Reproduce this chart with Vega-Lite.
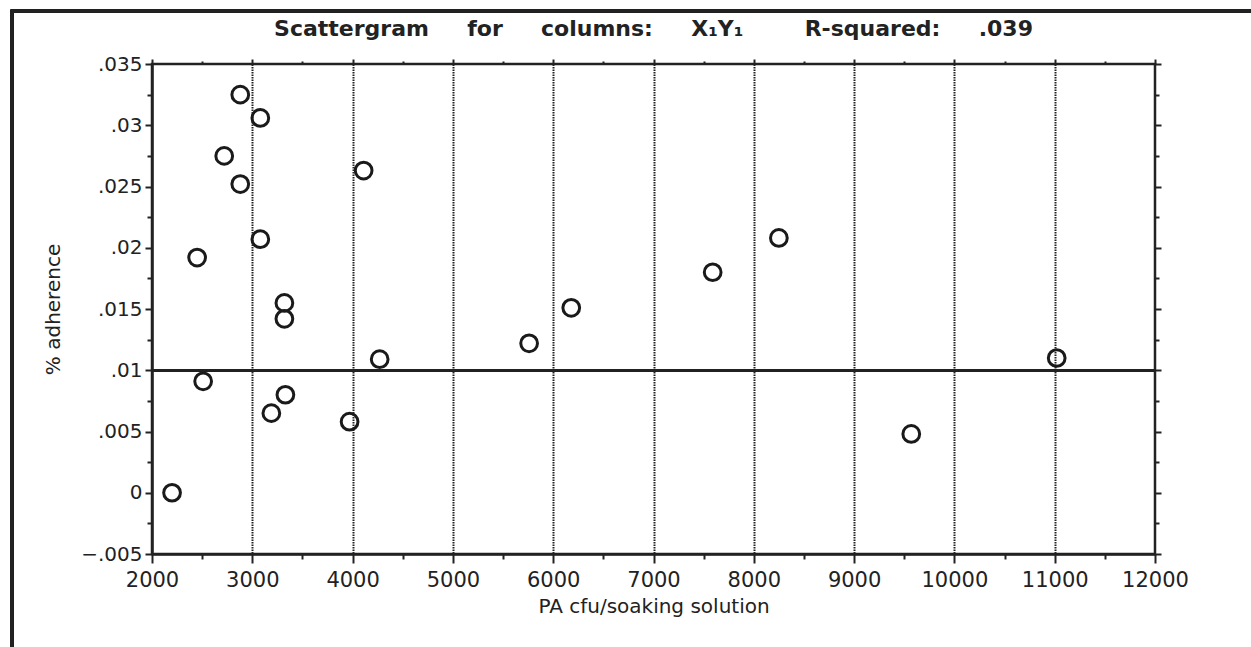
{
  "$schema": "https://vega.github.io/schema/vega-lite/v6.json",
  "autosize": {"type": "none"},
  "padding": {"left": 152, "top": 64, "right": 96, "bottom": 93},
  "width": 1003,
  "height": 490,
  "background": "white",
  "title": {
    "text": "Scattergram\u00a0\u00a0\u00a0\u00a0\u00a0for\u00a0\u00a0\u00a0\u00a0\u00a0columns:\u00a0\u00a0\u00a0\u00a0\u00a0X₁Y₁\u00a0\u00a0\u00a0\u00a0\u00a0\u00a0\u00a0\u00a0R-squared:\u00a0\u00a0\u00a0\u00a0\u00a0.039",
    "font": "DejaVu Sans",
    "fontSize": 22,
    "fontWeight": "bold",
    "color": "#222",
    "anchor": "middle",
    "baseline": "bottom",
    "offset": -53
  },
  "config": {
    "view": {"stroke": "#222", "strokeWidth": 2.5},
    "axis": {
      "labelFont": "DejaVu Sans",
      "titleFont": "DejaVu Sans",
      "labelColor": "#222",
      "titleColor": "#222",
      "titleFontWeight": "normal",
      "domainColor": "#222",
      "domainWidth": 2.5,
      "tickColor": "#222",
      "tickWidth": 2,
      "gridColor": "#222",
      "gridDash": [1.5, 1],
      "gridWidth": 2
    }
  },
  "data": {
    "values": [
      {"cfu": 2200, "adh": 0.0},
      {"cfu": 2450, "adh": 0.0192},
      {"cfu": 2510, "adh": 0.0091},
      {"cfu": 2720, "adh": 0.0275},
      {"cfu": 2880, "adh": 0.0325},
      {"cfu": 2880, "adh": 0.0252},
      {"cfu": 3080, "adh": 0.0306},
      {"cfu": 3080, "adh": 0.0207},
      {"cfu": 3190, "adh": 0.0065},
      {"cfu": 3320, "adh": 0.0155},
      {"cfu": 3320, "adh": 0.0142},
      {"cfu": 3330, "adh": 0.008},
      {"cfu": 3970, "adh": 0.0058},
      {"cfu": 4110, "adh": 0.0263},
      {"cfu": 4270, "adh": 0.0109},
      {"cfu": 5760, "adh": 0.0122},
      {"cfu": 6180, "adh": 0.0151},
      {"cfu": 7590, "adh": 0.018},
      {"cfu": 8250, "adh": 0.0208},
      {"cfu": 9570, "adh": 0.0048},
      {"cfu": 11020, "adh": 0.011}
    ]
  },
  "resolve": {"axis": {"x": "independent", "y": "independent"}},
  "layer": [
    {
      "mark": {"type": "rule", "color": "#222", "strokeWidth": 2},
      "encoding": {"y": {"datum": 0.01, "type": "quantitative", "axis": null}}
    },
    {
      "mark": {"type": "point", "shape": "circle", "filled": false, "size": 280, "strokeWidth": 3, "color": "#1a1a1a", "opacity": 1},
      "encoding": {
        "x": {
          "field": "cfu",
          "type": "quantitative",
          "scale": {"domain": [2000, 12000], "nice": false, "zero": false},
          "axis": {
            "orient": "bottom",
            "title": "PA cfu/soaking solution",
            "titleFontSize": 20,
            "titlePadding": 6,
            "values": [2000, 2500, 3000, 3500, 4000, 4500, 5000, 5500, 6000, 6500, 7000, 7500, 8000, 8500, 9000, 9500, 10000, 10500, 11000, 11500, 12000],
            "labelExpr": "datum.value % 1000 === 0 ? format(datum.value, 'd') : ''",
            "labelFontSize": 21,
            "labelPadding": 6,
            "labelFlush": false,
            "labelOverlap": false,
            "tickSize": {"condition": {"test": "datum.value % 1000 === 0", "value": 9}, "value": 5},
            "gridOpacity": {"condition": {"test": "datum.value % 1000 === 0 && datum.value > 2000 && datum.value < 12000", "value": 1}, "value": 0}
          }
        },
        "y": {
          "field": "adh",
          "type": "quantitative",
          "scale": {"domain": [-0.005, 0.035], "nice": false, "zero": false},
          "axis": {
            "orient": "left",
            "title": "% adherence",
            "titleFontSize": 20,
            "titlePadding": 17,
            "values": [-0.005, -0.0025, 0, 0.0025, 0.005, 0.0075, 0.01, 0.0125, 0.015, 0.0175, 0.02, 0.0225, 0.025, 0.0275, 0.03, 0.0325, 0.035],
            "labelExpr": "abs(round(datum.value * 400)) % 2 === 0 ? replace(format(datum.value, '.3~f'), '0.', '.') : ''",
            "labelFontSize": 20,
            "labelPadding": 3,
            "labelFlush": false,
            "labelOverlap": false,
            "tickSize": {"condition": {"test": "abs(round(datum.value * 400)) % 2 === 0", "value": 7}, "value": 5},
            "gridOpacity": {"condition": {"test": "abs(round(datum.value * 400)) % 2 === 0 && datum.value > -0.004 && datum.value < 0.034", "value": 1}, "value": 0}
          }
        }
      }
    },
    {
      "mark": {"type": "point", "opacity": 0},
      "encoding": {
        "x": {
          "field": "cfu",
          "type": "quantitative",
          "scale": {"domain": [2000, 12000], "nice": false, "zero": false},
          "axis": {
            "orient": "top",
            "title": null,
            "labels": false,
            "domain": false,
            "grid": false,
            "values": [2000, 2500, 3000, 3500, 4000, 4500, 5000, 5500, 6000, 6500, 7000, 7500, 8000, 8500, 9000, 9500, 10000, 10500, 11000, 11500, 12000],
            "tickSize": {"condition": {"test": "datum.value % 1000 === 0", "value": 5}, "value": 3}
          }
        },
        "y": {
          "field": "adh",
          "type": "quantitative",
          "scale": {"domain": [-0.005, 0.035], "nice": false, "zero": false},
          "axis": {
            "orient": "right",
            "title": null,
            "labels": false,
            "domain": false,
            "grid": false,
            "values": [-0.005, -0.0025, 0, 0.0025, 0.005, 0.0075, 0.01, 0.0125, 0.015, 0.0175, 0.02, 0.0225, 0.025, 0.0275, 0.03, 0.0325, 0.035],
            "tickSize": {"condition": {"test": "abs(round(datum.value * 400)) % 2 === 0", "value": 6}, "value": 4}
          }
        }
      }
    },
    {
      "mark": {"type": "rect", "fill": null, "fillOpacity": 0, "stroke": "#222", "strokeWidth": 2.5, "clip": false},
      "encoding": {
        "x": {"datum": 604, "type": "quantitative", "axis": null},
        "x2": {"datum": 13200},
        "y": {"datum": 0.03933, "type": "quantitative", "axis": null},
        "y2": {"datum": -0.0145}
      }
    }
  ]
}
